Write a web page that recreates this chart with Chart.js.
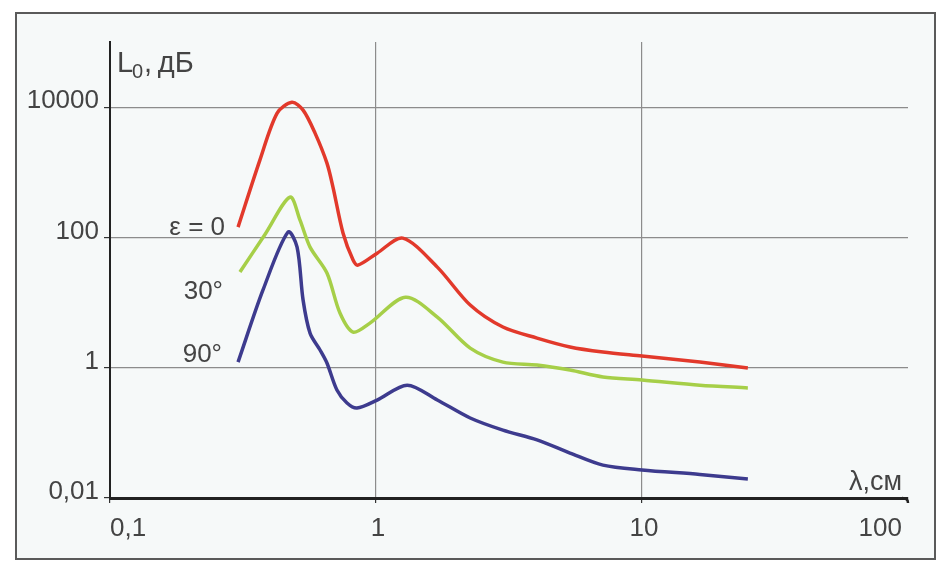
<!DOCTYPE html>
<html>
<head>
<meta charset="utf-8">
<script src="https://cdn.jsdelivr.net/npm/chart.js@4/dist/chart.umd.min.js"></script>
<style>
html,body{margin:0;padding:0;background:#ffffff;}
#wrap{width:950px;height:572px;position:relative;}
</style>
</head>
<body>
<div id="wrap"><canvas id="c" width="950" height="572"></canvas></div>
<script>
// ---- data (λ in cm, L0 in dB, log–log) ----
const redX   = [0.303,0.366,0.425,0.483,0.532,0.590,0.654,0.689,0.752,0.820,0.855,1.01,1.26,1.70,2.26,3.0,4.03,5.36,7.13,10,16.5,25];
const redY   = [144,1535,8090,11900,8990,3990,1380,592,116,44.9,37.6,57.4,97.7,35,9.16,4.21,2.85,2.08,1.74,1.51,1.22,0.99];
const greenX = [0.308,0.383,0.475,0.518,0.565,0.654,0.732,0.820,0.949,1.29,1.70,2.26,3.0,4.03,5.36,7.13,10,16.5,25];
const greenY = [29.4,112,416,184,71,28.4,6.9,3.52,4.84,12.1,5.99,2.0,1.22,1.10,0.92,0.72,0.65,0.54,0.49];
const blueX  = [0.303,0.376,0.467,0.505,0.532,0.565,0.616,0.654,0.713,0.778,0.848,1.01,1.31,1.70,2.26,3.0,4.03,5.36,7.13,10,16.5,25];
const blueY  = [1.22,15.6,121,71,10.9,3.40,1.87,1.18,0.454,0.287,0.240,0.319,0.54,0.32,0.169,0.110,0.078,0.049,0.032,0.027,0.023,0.0196];

const seriesNames = ['ε = 0','30°','90°'];
const xTicks = [0.1,1,10,100];
const xTickLabels = ['0,1','1','10','100'];
const yTicks = [0.01,1,100,10000];
const yTickLabels = ['0,01','1','100','10000'];

const toPts = (xs, ys) => xs.map((x,i)=>({x:x, y:ys[i]}));
const FONT = '"Liberation Sans", Arial, sans-serif';
const TXT = '#444444';

const decor = {
  id:'decor',
  beforeDraw(chart){
    const c = chart.ctx;
    c.save();
    c.fillStyle = '#ffffff';
    c.fillRect(0,0,chart.width,chart.height);
    c.fillStyle = '#f6f9f9';
    c.fillRect(16,13,919,546);
    c.restore();
  },
  afterDraw(chart){
    const c = chart.ctx;
    const xs = chart.scales.x, ys = chart.scales.y;
    c.save();
    // outer frame
    c.strokeStyle = '#5a5a5a'; c.lineWidth = 2;
    c.strokeRect(16,13,919,546);
    // x tick labels
    c.fillStyle = TXT;
    c.font = '26px ' + FONT;
    c.textBaseline = 'alphabetic';
    xTicks.forEach((v,i)=>{
      const px = xs.getPixelForValue(v);
      if (i === 0) { c.textAlign = 'left'; c.fillText(xTickLabels[i], px, 536); }
      else if (i === xTicks.length-1) { c.textAlign = 'right'; c.fillText(xTickLabels[i], px-6, 536); }
      else { c.textAlign = 'center'; c.fillText(xTickLabels[i], px+2, 536); }
    });
    // axis end hook
    const bx = xs.getPixelForValue(100), by = ys.getPixelForValue(0.01);
    c.strokeStyle = '#222'; c.lineWidth = 2.5;
    c.beginPath(); c.moveTo(bx-6, by); c.quadraticCurveTo(bx, by, bx, by+5); c.stroke();
    // y axis title
    c.textAlign = 'left';
    c.font = '29px ' + FONT;
    c.fillText('L', 117, 72);
    c.font = '20px ' + FONT;
    c.fillText('0', 132, 78);
    c.font = '29px ' + FONT;
    c.fillText(',\u2009дБ', 144, 72);
    // x axis title
    c.textAlign = 'right';
    c.font = '27px ' + FONT;
    c.fillText('λ,см', 902, 490);
    // curve labels
    c.font = '26px ' + FONT;
    c.fillText(seriesNames[0], 225, 235);
    c.fillText(seriesNames[1], 223, 299);
    c.fillText(seriesNames[2], 222, 362);
    c.restore();
  }
};

const lineDs = (label, xs, ys, color, w) => ({
  label, data: toPts(xs, ys), borderColor: color, borderWidth: w,
  pointRadius: 0, fill: false, tension: 0.3, borderCapStyle:'butt', borderJoinStyle:'round'
});

new Chart(document.getElementById('c'), {
  type: 'line',
  data: {
    datasets: [
      lineDs(seriesNames[0], redX, redY, '#e2392b', 3.5),
      lineDs(seriesNames[1], greenX, greenY, '#a6cf48', 3.5),
      lineDs(seriesNames[2], blueX, blueY, '#3d3b8e', 3.5)
    ]
  },
  options: {
    responsive: false,
    animation: false,
    devicePixelRatio: 1,
    layout: { padding: { top: 42, right: 42, left: 0, bottom: 0 } },
    plugins: { legend: { display: false }, tooltip: { enabled: false } },
    scales: {
      x: {
        type: 'logarithmic', min: 0.1, max: 100,
        afterBuildTicks: s => { s.ticks = xTicks.map(v=>({value:v})); },
        afterFit: s => { s.height = 74; },
        ticks: { display: false },
        border: { display: true, color: '#222', width: 3 },
        grid: {
          color: ctx => (ctx.tick && (ctx.tick.value === 0.1 || ctx.tick.value === 100)) ? 'rgba(0,0,0,0)' : '#8c8c8c',
          lineWidth: 1.2,
          drawTicks: true, tickLength: 5, tickColor: '#333'
        }
      },
      y: {
        type: 'logarithmic', min: 0.01, max: 100000,
        afterBuildTicks: s => { s.ticks = yTicks.map(v=>({value:v})); },
        afterFit: s => { s.width = 110; },
        ticks: {
          callback: v => { const i = yTicks.findIndex(t => Math.abs(t - v) / t < 1e-6); return i >= 0 ? yTickLabels[i] : ''; },
          color: TXT, font: { family: FONT, size: 26 }, padding: 5, labelOffset: -6, autoSkip: false
        },
        border: { display: true, color: '#222', width: 2 },
        grid: {
          color: ctx => (ctx.tick && ctx.tick.value === 0.01) ? 'rgba(0,0,0,0)' : '#8c8c8c',
          lineWidth: 1.2,
          drawTicks: true, tickLength: 6, tickColor: '#333'
        }
      }
    }
  },
  plugins: [decor]
});
</script>
</body>
</html>
